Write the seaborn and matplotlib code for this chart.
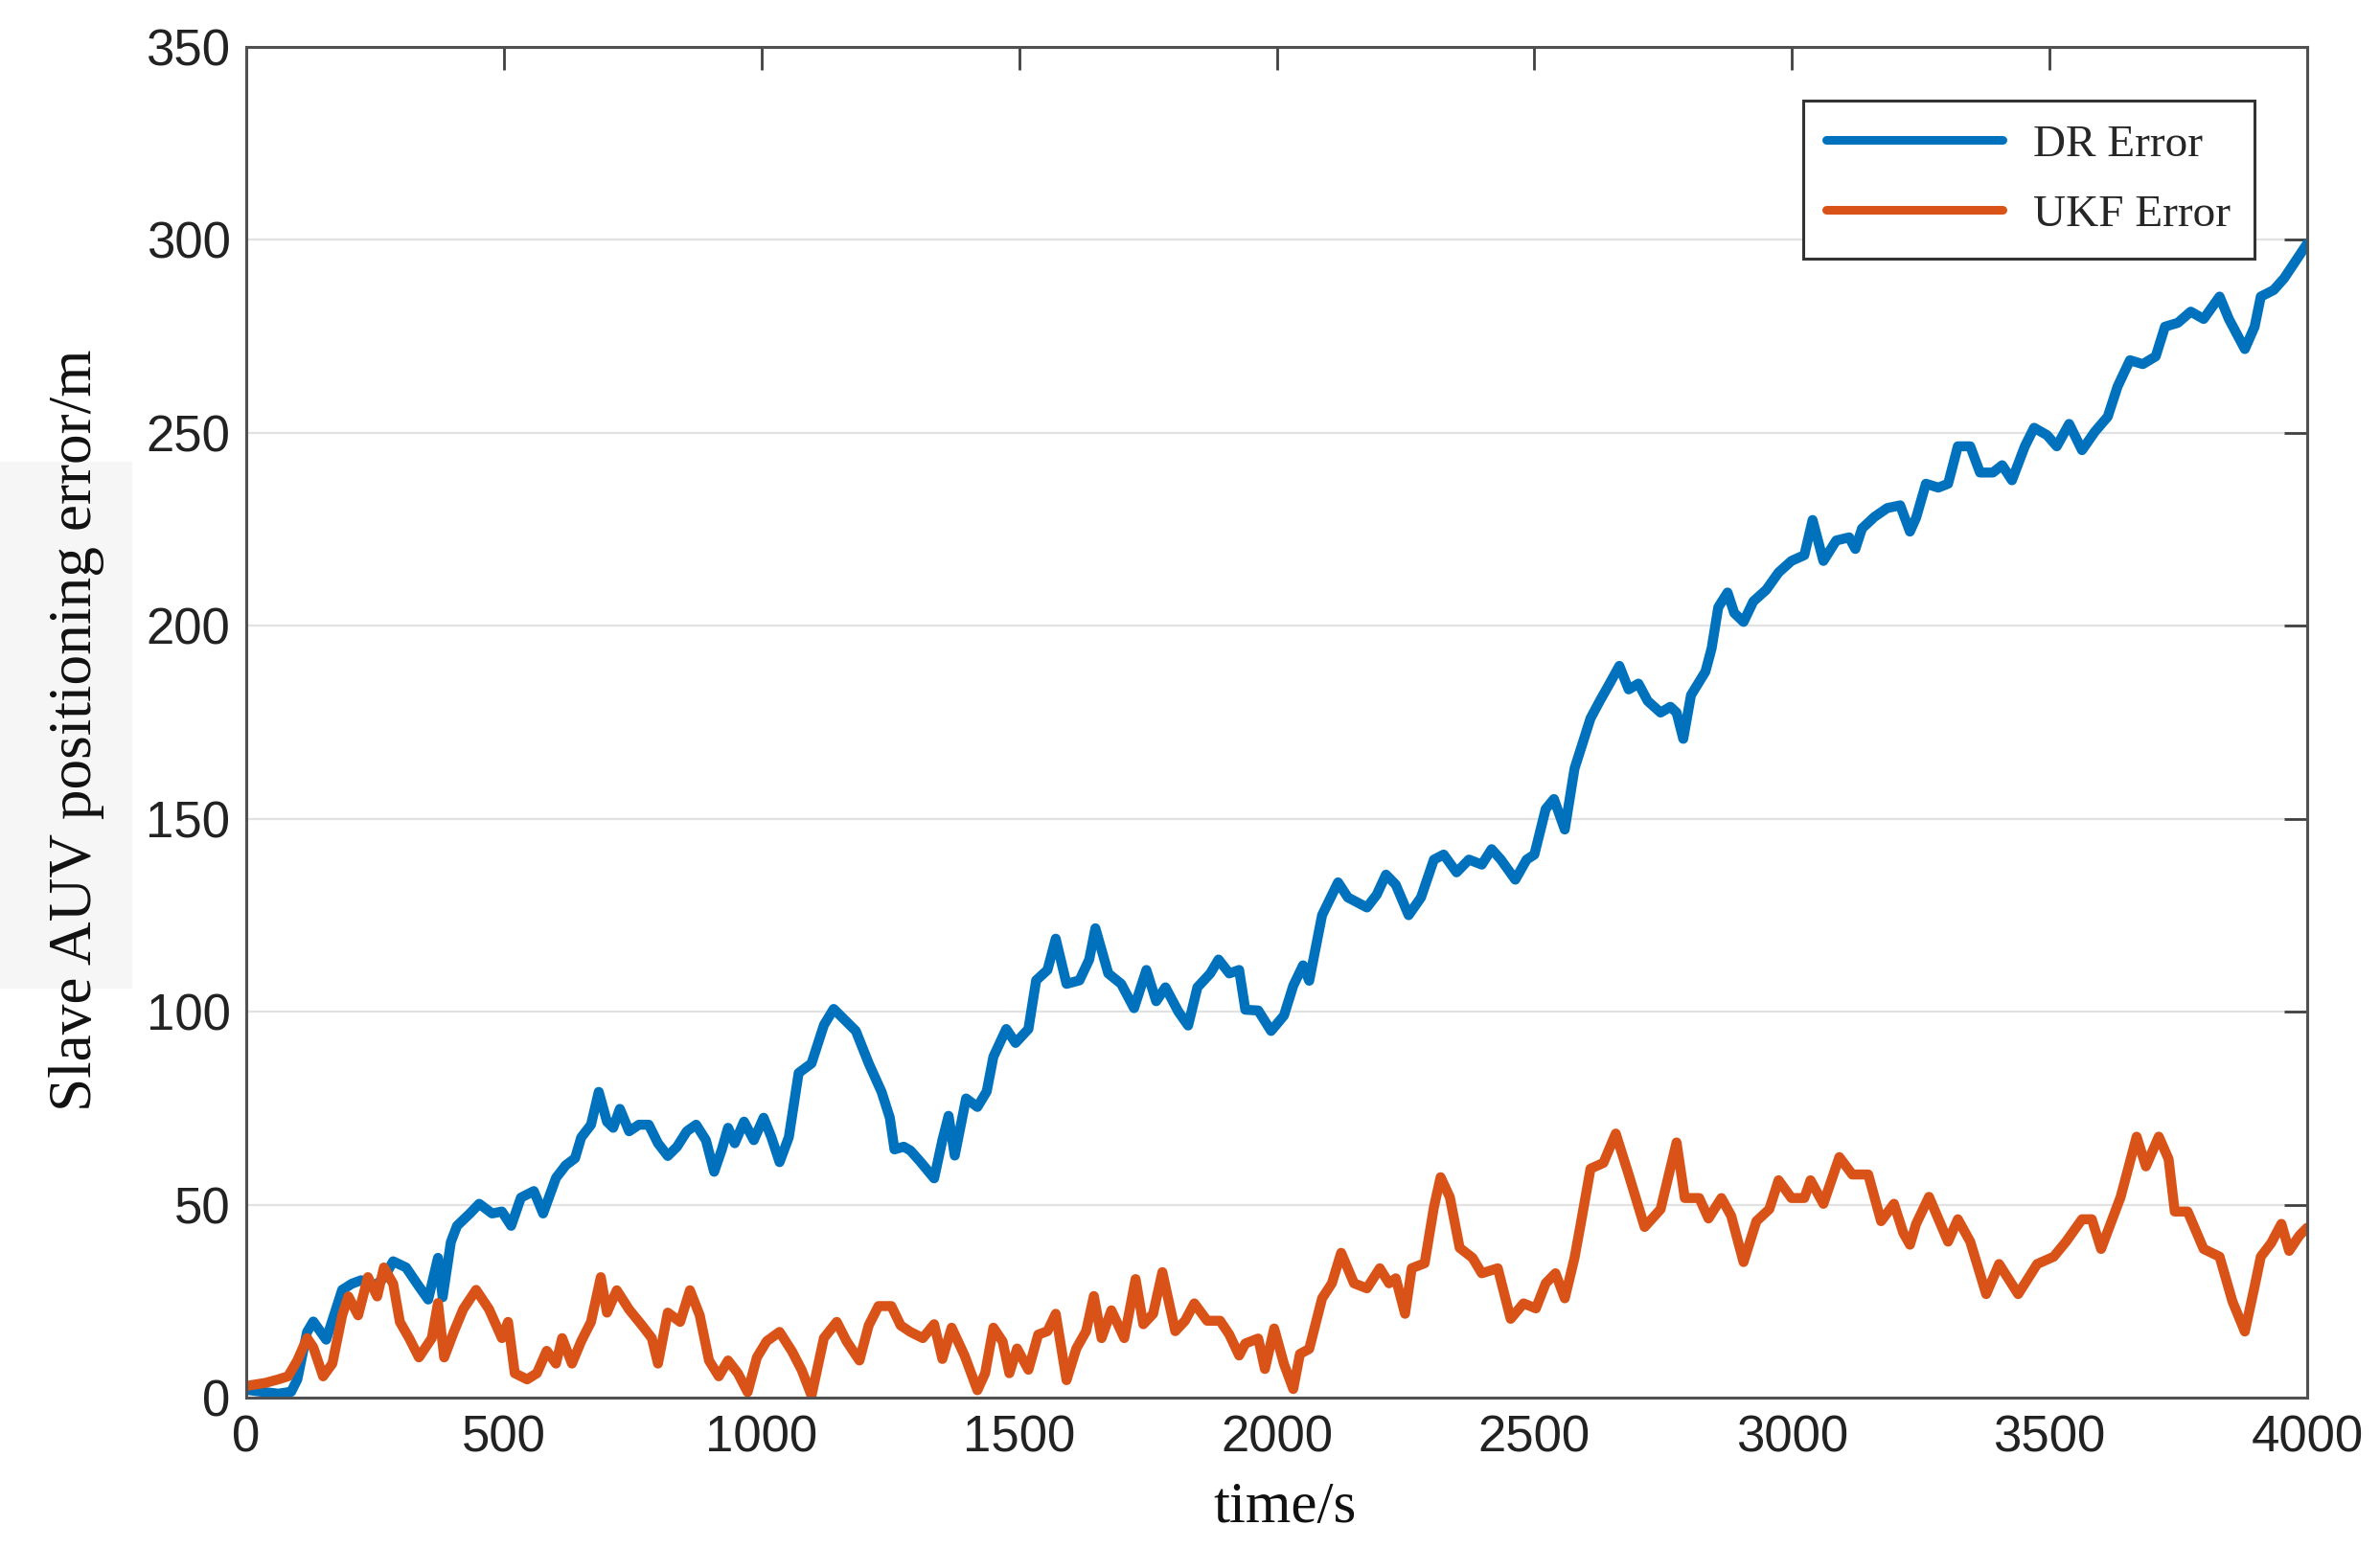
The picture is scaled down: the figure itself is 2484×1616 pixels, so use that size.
import matplotlib
matplotlib.use('Agg')
import matplotlib.pyplot as plt
from matplotlib.patches import Rectangle
import seaborn as sns

# values
dr_time = [0, 30, 62, 87, 99, 118, 130, 155, 167, 186, 205, 223, 248, 267, 285, 310, 335, 353,
           372, 381, 397, 409, 434, 452, 477, 496, 514, 533, 558, 576, 601, 620, 638, 650, 669,
           684, 700, 712, 725, 743, 762, 781, 799, 818, 836, 855, 873, 892, 908, 923, 935, 948,
           966, 985, 1004, 1019, 1035, 1053, 1072, 1097, 1121, 1140, 1165, 1183, 1208, 1233,
           1249, 1258, 1276, 1289, 1307, 1335, 1351, 1363, 1375, 1397, 1419, 1437, 1450, 1475,
           1493, 1518, 1533, 1555, 1571, 1592, 1617, 1636, 1648, 1673, 1698, 1723, 1747, 1766,
           1784, 1809, 1828, 1846, 1871, 1887, 1908, 1927, 1939, 1964, 1989, 2014, 2032, 2051,
           2063, 2088, 2119, 2138, 2175, 2194, 2212, 2231, 2256, 2280, 2305, 2324, 2349, 2373,
           2398, 2417, 2435, 2463, 2485, 2500, 2522, 2538, 2559, 2578, 2590, 2609, 2627, 2646,
           2665, 2683, 2702, 2720, 2745, 2764, 2776, 2789, 2804, 2832, 2844, 2857, 2875, 2888,
           2906, 2925, 2950, 2974, 2999, 3024, 3040, 3061, 3086, 3111, 3123, 3136, 3160, 3185,
           3210, 3229, 3241, 3260, 3284, 3303, 3322, 3346, 3365, 3390, 3408, 3427, 3452, 3470,
           3495, 3514, 3538, 3563, 3588, 3613, 3632, 3656, 3681, 3706, 3724, 3749, 3774, 3799,
           3830, 3848, 3879, 3898, 3910, 3935, 3955, 3975, 4000]
dr_error = [2, 1.5, 1, 1.5, 4.7, 17, 19.7, 15, 20, 27.9, 29.5, 30.4, 28.8, 31, 35.3, 33.7, 28.8,
            25.4, 36.2, 26, 40.3, 44.5, 47.7, 50.2, 47.7, 48.2, 44.5, 51.8, 53.5, 47.7, 56.9, 60.2,
            62, 67.4, 70.7, 79.2, 71.5, 69.9, 74.8, 69, 70.7, 70.7, 65.9, 62.6, 65, 69, 70.7, 66.7,
            58.5, 64.3, 69.9, 65.9, 71.5, 66.7, 72.5, 67.5, 61, 67.5, 84.1, 86.6, 96.5, 100.7,
            97.4, 95, 86.6, 79.2, 72.5, 64.3, 65, 64, 61.3, 56.8, 66.7, 73, 62.7, 77.5, 75.3, 79.3,
            88.3, 95.5, 91.9, 95.5, 108.1, 110.8, 118.9, 107.2, 108.1, 113.5, 121.6, 109.9, 107.2,
            100.9, 110.8, 102.7, 106.3, 100, 96.4, 106.3, 109.9, 113.5, 109.9, 110.8, 100.5, 100.3,
            95, 99, 106.7, 112, 108, 125, 133.5, 129.6, 127, 130.3, 135.5, 132.9, 125, 129.6,
            139.4, 140.7, 136.1, 139.4, 138.1, 142.1, 139.4, 134.2, 139.4, 140.7, 152.5, 155.1,
            147.2, 163, 168, 176, 180.5, 185, 189.6, 183.5, 185, 180.5, 177.5, 179, 177.5, 170.7,
            182, 188.1, 194.1, 204.8, 208.6, 203.3, 201, 206.3, 209.3, 213.8, 216.8, 218.3, 227.4,
            216.8, 222.1, 222.9, 219.9, 225.2, 228.2, 230.5, 231.2, 224.4, 228, 236.8, 235.8,
            236.8, 246.5, 246.5, 239.7, 239.7, 241.6, 237.7, 246.5, 251.3, 249.4, 246.5, 252.3,
            245.5, 250.3, 254.2, 262, 268.8, 267.8, 269.8, 277.5, 278.5, 281.4, 279.5, 285.3,
            279.5, 271.7, 277.5, 285.3, 287, 290, 294, 299]

ukf_time = [0, 37, 62, 81, 99, 118, 130, 149, 167, 186, 198, 217, 236, 254, 267, 285, 298, 316,
            335, 360, 372, 384, 403, 421, 446, 471, 496, 508, 521, 545, 564, 583, 601, 613, 632,
            650, 669, 688, 700, 719, 743, 768, 787, 799, 818, 842, 861, 880, 898, 917, 935, 954,
            973, 991, 1010, 1035, 1059, 1078, 1097, 1121, 1146, 1165, 1190, 1208, 1227, 1252,
            1270, 1289, 1313, 1335, 1351, 1369, 1394, 1419, 1434, 1450, 1468, 1481, 1496, 1518,
            1537, 1555, 1571, 1592, 1611, 1630, 1645, 1660, 1679, 1704, 1726, 1741, 1760, 1778,
            1803, 1822, 1840, 1865, 1890, 1908, 1927, 1939, 1964, 1977, 1995, 2014, 2032, 2045,
            2063, 2088, 2107, 2125, 2150, 2175, 2200, 2218, 2231, 2249, 2262, 2287, 2305, 2318,
            2336, 2355, 2380, 2398, 2429, 2454, 2479, 2503, 2522, 2541, 2559, 2578, 2590, 2609,
            2634, 2658, 2683, 2714, 2745, 2776, 2792, 2820, 2838, 2863, 2882, 2906, 2931, 2956,
            2974, 2999, 3024, 3036, 3061, 3092, 3117, 3148, 3173, 3198, 3216, 3229, 3241, 3266,
            3303, 3322, 3346, 3377, 3402, 3439, 3476, 3508, 3532, 3563, 3582, 3600, 3638, 3669,
            3687, 3712, 3731, 3743, 3768, 3799, 3830, 3855, 3879, 3898, 3910, 3930, 3950, 3965,
            3985, 4000]
ukf_error = [3, 3.8, 4.7, 5.5, 9.6, 15.4, 13, 5.5, 8.8, 21.3, 26.2, 21.3, 31.2, 26.2, 33.7, 29.5,
             19.6, 15.4, 10.4, 15.4, 24.5, 10.4, 17.1, 22.9, 27.9, 22.9, 15.4, 19.6, 6.3, 4.7, 6.3,
             12.1, 8.8, 15.4, 8.8, 14.6, 19.6, 31.2, 22, 27.8, 22.8, 18.7, 15.4, 8.8, 22, 19.6,
             27.8, 21.3, 9.6, 5.5, 9.6, 6.3, 1.4, 10.4, 14.6, 17, 12, 7.1, 0.5, 15.4, 19.6, 14.6,
             9.6, 18.7, 23.7, 23.7, 18.7, 17, 15.4, 19, 10, 18.1, 10.9, 1.9, 6.3, 18.1, 14.5, 6.3,
             12.7, 7.2, 16.3, 17.2, 21.7, 4.5, 12.7, 17.2, 26.3, 15.4, 22.6, 15.4, 30.7, 19, 21.7,
             32.5, 17.2, 19.9, 24.4, 19.9, 19.9, 16.3, 10.9, 14, 15.3, 7.4, 17.9, 8.7, 2.2, 11.3,
             12.6, 25.7, 29.6, 37.5, 29.6, 28.3, 33.5, 29.6, 30.9, 21.7, 33.5, 34.8, 49.3, 57.1,
             51.9, 38.8, 36.2, 32.2, 33.5, 20.4, 24.4, 23.1, 29.6, 32.2, 25.7, 36.2, 45, 59.3,
             60.8, 68.4, 57.8, 44.2, 48.8, 66.1, 51.7, 51.7, 46.4, 51.7, 47.1, 35.1, 45.7, 48.8,
             56.3, 51.7, 51.7, 56.3, 50.2, 62.3, 57.8, 57.8, 45.7, 50.2, 42.7, 39.6, 45, 52, 40.4,
             46.2, 40.4, 26.8, 34.6, 26.8, 34.6, 36.5, 40.4, 46.2, 46.2, 38.5, 52, 67.6, 59.9,
             67.6, 61.8, 48.2, 48.2, 38.5, 36.5, 24.9, 17.1, 28.8, 36.5, 40, 45, 38, 42, 44]

x_ticks = [0, 500, 1000, 1500, 2000, 2500, 3000, 3500, 4000]
y_ticks = [0, 50, 100, 150, 200, 250, 300, 350]

sns.set_theme(style='white')
plt.rcParams['font.family'] = ['Liberation Sans', 'DejaVu Sans']

fig, ax = plt.subplots(figsize=(24.84, 16.16), dpi=100)
fig.subplots_adjust(left=0.1035, right=0.9694, bottom=0.0972, top=0.9697)

# faint grey patch behind the y label, as in the scanned figure
fig.add_artist(Rectangle((0, 0.362), 0.055, 0.34, transform=fig.transFigure,
                         color='#f6f6f6', zorder=-5))

sns.lineplot(x=dr_time, y=dr_error, ax=ax, color='#0072BD', linewidth=7.5, label='DR Error')
sns.lineplot(x=ukf_time, y=ukf_error, ax=ax, color='#D95319', linewidth=7.5, label='UKF Error')

ax.set_xlim(0, 4000)
ax.set_ylim(0, 350)
ax.set_xticks(x_ticks)
ax.set_yticks(y_ticks)
ax.yaxis.grid(True, color='#e2e2e2', linewidth=1.6)
ax.xaxis.grid(False)
ax.set_axisbelow(True)

for s in ax.spines.values():
    s.set_visible(True)
    s.set_color('#505050')
    s.set_linewidth(2.2)

ax.tick_params(axis='both', direction='in', length=17, width=2, color='#404040',
               top=True, right=True, labelsize=38, labelcolor='#222222')
ax.tick_params(axis='x', pad=13)
ax.tick_params(axis='y', pad=12)

ax.set_xlabel('time/s', family='Liberation Serif', fontsize=44, color='#111111')
ax.set_ylabel('Slave AUV positioning error/m', family='Liberation Serif', fontsize=45.5,
              color='#111111')
ax.xaxis.set_label_coords(0.504, -0.062)
ax.yaxis.set_label_coords(-0.069, 0.494)

leg = ax.legend(loc='upper right', bbox_to_anchor=(0.9744, 0.9603), borderaxespad=0,
                prop={'family': 'Liberation Serif', 'size': 34}, handlelength=3.9,
                handletextpad=0.68, labelspacing=0.64, borderpad=0.52, frameon=True,
                fancybox=False, edgecolor='#333333', framealpha=1)
leg.get_frame().set_linewidth(2.2)
for line in leg.get_lines():
    line.set_linewidth(6.5)

plt.savefig('out.png', dpi=100)
plt.close()
